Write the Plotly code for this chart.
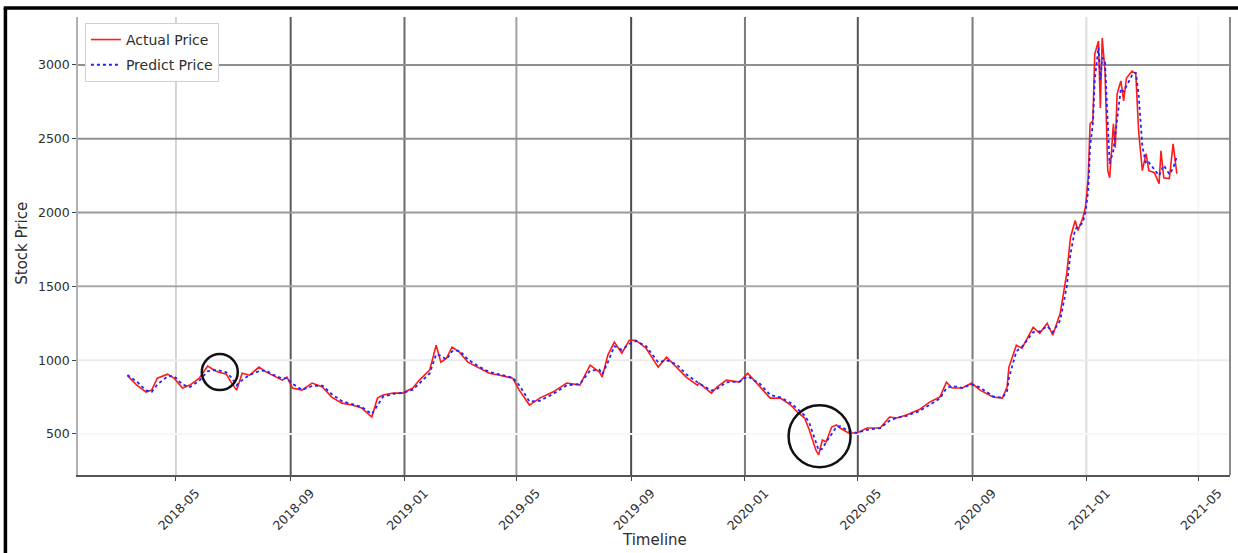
import plotly.graph_objects as go

# ---- data -------------------------------------------------------------
dates = [
    "2018-03-10", "2018-03-20", "2018-03-30", "2018-04-05", "2018-04-11", "2018-04-22",
    "2018-04-29", "2018-05-08", "2018-05-16", "2018-05-26", "2018-06-04", "2018-06-13",
    "2018-06-24", "2018-06-29", "2018-07-05", "2018-07-11", "2018-07-19", "2018-07-29",
    "2018-08-06", "2018-08-12", "2018-08-23", "2018-08-28", "2018-09-03", "2018-09-13",
    "2018-09-24", "2018-10-05", "2018-10-15", "2018-10-26", "2018-11-06", "2018-11-16",
    "2018-11-27", "2018-12-03", "2018-12-09", "2018-12-20", "2018-12-30", "2019-01-10",
    "2019-01-17", "2019-01-28", "2019-02-04", "2019-02-09", "2019-02-15", "2019-02-21",
    "2019-03-01", "2019-03-10", "2019-03-22", "2019-04-02", "2019-04-13", "2019-04-27",
    "2019-05-04", "2019-05-15", "2019-05-26", "2019-06-09", "2019-06-24", "2019-07-08",
    "2019-07-19", "2019-07-29", "2019-08-01", "2019-08-07", "2019-08-14", "2019-08-22",
    "2019-08-30", "2019-09-06", "2019-09-17", "2019-09-30", "2019-10-09", "2019-10-20",
    "2019-10-30", "2019-11-11", "2019-11-13", "2019-11-26", "2019-12-02", "2019-12-12",
    "2019-12-26", "2020-01-04", "2020-01-17", "2020-01-28", "2020-02-08", "2020-02-19",
    "2020-02-26", "2020-03-05", "2020-03-10", "2020-03-17", "2020-03-20", "2020-03-24",
    "2020-03-28", "2020-04-03", "2020-04-08", "2020-04-12", "2020-04-21", "2020-04-30",
    "2020-05-11", "2020-05-25", "2020-06-04", "2020-06-12", "2020-06-22", "2020-07-06",
    "2020-07-17", "2020-07-28", "2020-08-04", "2020-08-10", "2020-08-21", "2020-08-31",
    "2020-09-09", "2020-09-18", "2020-09-23", "2020-10-03", "2020-10-08", "2020-10-10",
    "2020-10-18", "2020-10-24", "2020-11-05", "2020-11-12", "2020-11-20", "2020-11-26",
    "2020-12-04", "2020-12-11", "2020-12-15", "2020-12-20", "2020-12-23", "2020-12-28",
    "2020-12-31", "2021-01-03", "2021-01-05", "2021-01-08", "2021-01-10", "2021-01-14",
    "2021-01-16", "2021-01-18", "2021-01-21", "2021-01-24", "2021-01-26", "2021-01-30",
    "2021-02-01", "2021-02-03", "2021-02-07", "2021-02-10", "2021-02-13", "2021-02-19",
    "2021-02-23", "2021-02-26", "2021-03-02", "2021-03-06", "2021-03-09", "2021-03-15",
    "2021-03-20", "2021-03-22", "2021-03-25", "2021-03-31", "2021-04-04", "2021-04-08",
]

actual_price = [
    895, 831, 784, 797, 878, 905,
    878, 811, 831, 878, 960, 925,
    905, 851, 797, 912, 898, 953,
    919, 898, 865, 885, 811, 797,
    845, 818, 750, 709, 696, 676,
    615, 743, 764, 777, 777, 811,
    865, 932, 1101, 986, 1013, 1088,
    1054, 986, 946, 912, 898, 878,
    797, 696, 743, 784, 845, 831,
    966, 919, 885, 1034, 1122, 1047,
    1135, 1135, 1081, 953, 1020, 953,
    885, 831, 845, 777, 818, 865,
    851, 912, 818, 743, 743, 696,
    649, 608, 527, 392, 358, 459,
    446, 547, 561, 540, 507, 507,
    540, 540, 615, 608, 628, 665,
    716, 750, 851, 811, 811, 845,
    797, 764, 750, 743, 818, 953,
    1101, 1081, 1223, 1182, 1250, 1169,
    1318, 1588, 1831, 1946, 1878, 1959,
    2034, 2236, 2601, 2622, 3074, 3162,
    2709, 3182, 2959, 2284, 2236, 2601,
    2439, 2804, 2892, 2757, 2912, 2959,
    2939, 2554, 2284, 2399, 2284, 2270,
    2196, 2419, 2236, 2230, 2466, 2263,
]

predict_price = [
    900, 855, 795, 785, 835, 890,
    892, 835, 818, 860, 925, 935,
    918, 885, 830, 865, 900, 925,
    930, 905, 875, 878, 840, 800,
    825, 828, 770, 722, 702, 683,
    635, 690, 752, 772, 778, 800,
    845, 910, 1040, 1030, 1005, 1060,
    1065, 1005, 955, 920, 903, 882,
    830, 720, 725, 770, 830, 838,
    930, 935, 905, 985, 1095, 1070,
    1110, 1130, 1095, 985, 1000, 970,
    905, 850, 842, 795, 805, 850,
    855, 890, 840, 765, 748, 710,
    668, 625, 575, 450, 390, 400,
    445, 500, 548, 552, 520, 508,
    528, 540, 590, 610, 622, 655,
    700, 740, 810, 825, 812, 835,
    815, 775, 755, 745, 790, 880,
    1060, 1090, 1190, 1195, 1230, 1190,
    1270, 1500, 1720, 1890, 1900, 1930,
    2000, 2150, 2450, 2600, 2900, 3120,
    2900, 3050, 3020, 2600, 2330, 2420,
    2520, 2650, 2840, 2820, 2860, 2930,
    2950, 2800, 2450, 2330, 2340, 2290,
    2250, 2280, 2320, 2260, 2300, 2380,
]

# axis ticks
x_tick_vals = ["2018-05-01", "2018-09-01", "2019-01-01", "2019-05-01", "2019-09-01",
               "2020-01-01", "2020-05-01", "2020-09-01", "2021-01-01", "2021-05-01"]
x_tick_text = ["2018-05", "2018-09", "2019-01", "2019-05", "2019-09",
               "2020-01", "2020-05", "2020-09", "2021-01", "2021-05"]
y_tick_vals = [500, 1000, 1500, 2000, 2500, 3000]

# highlighted episodes (date, price)
highlight_dates = ["2018-06-17", "2020-03-21"]
highlight_prices = [919, 485]

# ---- styling ------------------------------------------------------------
FONT = "DejaVu Sans"
TXT = "#2e2e2e"
x_grid_colors = ["#d4d4d4", "#5a5a5a", "#6a6a6a", "#a0a0a0", "#4a4a4a",
                 "#7a7a7a", "#555555", "#7c7c7c", "#dcdcdc", "#f6f6f6"]
y_grid_colors = ["#f7f7f7", "#ececec", "#a8a8a8", "#9a9a9a", "#909090", "#909090"]
highlight_radius = [18, 31]

fig = go.Figure()
fig.add_trace(go.Scatter(
    x=dates, y=actual_price, mode="lines", name="Actual Price", legendgroup="actual",
    line=dict(color="#ff1a1a", width=1.6),
))
fig.add_trace(go.Scatter(
    x=dates, y=predict_price, mode="lines", name="Predict Price", legendgroup="predict",
    line=dict(color="#2222ff", width=1.8, dash="dot"),
))

shapes = []
for xv, col in zip(x_tick_vals, x_grid_colors):
    shapes.append(dict(type="line", xref="x", yref="paper", x0=xv, x1=xv, y0=0, y1=1,
                       line=dict(color=col, width=2), layer="below"))
for yv, col in zip(y_tick_vals, y_grid_colors):
    shapes.append(dict(type="line", xref="paper", yref="y", x0=0, x1=1, y0=yv, y1=yv,
                       line=dict(color=col, width=2), layer="below"))

# right spine
shapes.append(dict(type="line", xref="paper", yref="paper", x0=1, x1=1, y0=0, y1=1,
                   line=dict(color="#8a8a8a", width=2)))

# circles marking the highlighted episodes
for d, p, r in zip(highlight_dates, highlight_prices, highlight_radius):
    shapes.append(dict(type="circle", xref="x", yref="y",
                       xsizemode="pixel", ysizemode="pixel",
                       xanchor=d, yanchor=p, x0=-r, x1=r, y0=-r, y1=r,
                       line=dict(color="#111111", width=2.5)))

# outer black frame (left and top edges)
shapes.append(dict(type="line", xref="paper", yref="paper", x0=-0.063, x1=-0.063,
                   y0=-0.2, y1=1.0197, line=dict(color="black", width=3.5)))
shapes.append(dict(type="line", xref="paper", yref="paper", x0=-0.0645, x1=1.01,
                   y0=1.0197, y1=1.0197, line=dict(color="black", width=3.5)))

fig.update_layout(
    width=1238, height=553,
    margin=dict(l=78, r=8, t=17, b=78),
    plot_bgcolor="white", paper_bgcolor="white",
    font=dict(family=FONT, color=TXT, size=12),
    shapes=shapes,
    legend=dict(
        x=0.006, y=0.987, xanchor="left", yanchor="top",
        bgcolor="white", bordercolor="#d0d0d0", borderwidth=1,
        font=dict(family=FONT, size=14, color=TXT),
        itemwidth=30, tracegroupgap=4,
    ),
    annotations=[
        dict(text="Stock Price", xref="paper", yref="paper", x=-0.0486, y=0.505,
             textangle=-90, showarrow=False, font=dict(family=FONT, size=15, color=TXT),
             xanchor="center", yanchor="middle"),
        dict(text="Timeline", xref="paper", yref="paper", x=0.5, y=-0.142,
             showarrow=False, font=dict(family=FONT, size=15, color=TXT),
             xanchor="center", yanchor="middle"),
    ],
)

fig.update_xaxes(
    type="date", range=["2018-01-16", "2021-06-04"],
    tickvals=x_tick_vals, ticktext=x_tick_text, tickangle=-45,
    ticks="outside", ticklen=4, tickcolor="#444444", tickwidth=1,
    ticklabelshift=20,
    showgrid=False, zeroline=False,
    showline=True, linecolor="#555555", linewidth=2,
    tickfont=dict(family=FONT, size=12.5, color=TXT),
)
fig.update_yaxes(
    range=[222, 3325], tickvals=y_tick_vals,
    ticks="outside", ticklen=4, tickcolor="#444444", tickwidth=1,
    showgrid=False, zeroline=False,
    showline=True, linecolor="#b0b0b0", linewidth=1.5,
    tickfont=dict(family=FONT, size=12.5, color=TXT),
)

fig.write_html("out.html")
